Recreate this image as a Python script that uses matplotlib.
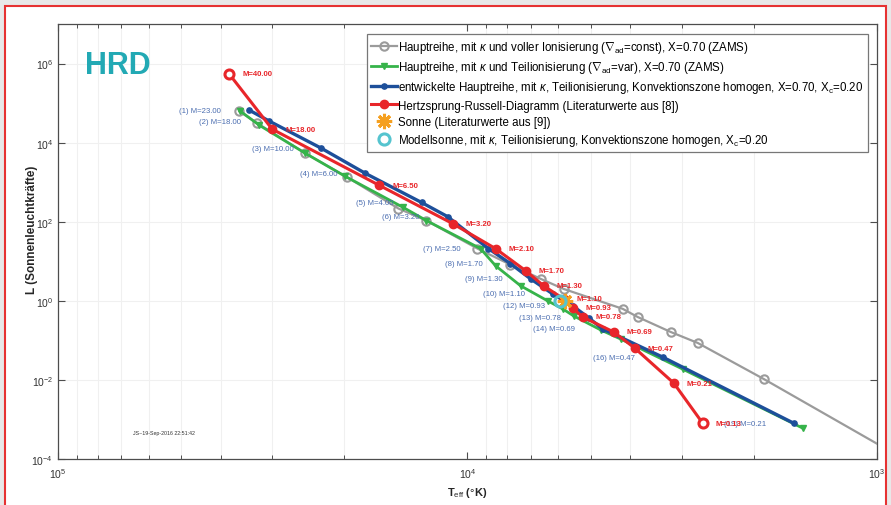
import matplotlib
matplotlib.use('Agg')
import matplotlib.pyplot as plt
from matplotlib.patches import Rectangle
from matplotlib.ticker import LogLocator, NullFormatter, FixedLocator

# ---------------- data ----------------
# Hauptreihe, mit kappa und voller Ionisierung (grey, open circles)
gray_T = [36040, 32620, 24890, 19650, 14750, 12600, 9454, 7853, 6630, 5825,
          4178, 3841, 3190, 2740, 1889, 780]
gray_L = [61500, 31060, 5380, 1324, 216, 107, 20.9, 8.2, 3.6, 2.0,
          0.627, 0.39, 0.163, 0.086, 0.0105, 5.6e-5]

# Hauptreihe, mit kappa und Teilionisierung (green, triangles)
green_T = [35890, 32260, 24890, 19880, 14340, 12600, 9295, 8540, 7420, 6374,
           5857, 5506, 4730, 4226, 2980, 1517]
green_L = [62700, 27660, 5380, 1403, 229, 107, 20.9, 7.7, 2.4, 1.0,
           0.627, 0.416, 0.184, 0.108, 0.0187, 0.0006]

# entwickelte Hauptreihe (dark blue, dots)
blue_T = [34120, 30470, 22750, 17760, 12950, 11190, 8888, 7853, 7015, 6195,
          5538, 5058, 4677, 3337, 1596]
blue_L = [66400, 34900, 7210, 1672, 307, 135, 20.9, 8.7, 3.6, 1.5,
          0.75, 0.37, 0.195, 0.0377, 0.0008]
blue_labels = ['(1) M=23.00', '(2) M=18.00', '(3) M=10.00', '(4) M=6.00',
               '(5) M=4.00', '(6) M=3.20', '(7) M=2.50', '(8) M=1.70',
               '(9) M=1.30', '(10) M=1.10', '(12) M=0.93', '(13) M=0.78',
               '(14) M=0.69', '(16) M=0.47', '(19) M=0.21']

# Hertzsprung-Russell-Diagramm, Literaturwerte (red)
red_T = [38190, 29990, 16410, 10880, 8540, 7215, 6520, 5825, 5538, 5235,
         4395, 3906, 3135, 2664]
red_L = [545000, 21900, 829, 90, 20.9, 5.8, 2.4, 1.12, 0.66, 0.39,
         0.163, 0.064, 0.0083, 0.0008]
red_labels = ['M=40.00', 'M=18.00', 'M=6.50', 'M=3.20', 'M=2.10', 'M=1.70',
              'M=1.30', 'M=1.10', 'M=0.93', 'M=0.78', 'M=0.69', 'M=0.47',
              'M=0.21', 'M=0.13']

# Sonne and Modellsonne
sun_T = [5778]
sun_L = [1.0]
model_T = [5947]
model_L = [1.0]

legend_labels = [
    r'Hauptreihe, mit $\kappa$ und voller Ionisierung ($\nabla_{\rm ad}$=const), X=0.70 (ZAMS)',
    r'Hauptreihe, mit $\kappa$ und Teilionisierung ($\nabla_{\rm ad}$=var), X=0.70 (ZAMS)',
    r'entwickelte Hauptreihe, mit $\kappa$, Teilionisierung, Konvektionszone homogen, X=0.70, X$_{\rm c}$=0.20',
    'Hertzsprung-Russell-Diagramm (Literaturwerte aus [8])',
    'Sonne (Literaturwerte aus [9])',
    r'Modellsonne, mit $\kappa$, Teilionisierung, Konvektionszone homogen, X$_{\rm c}$=0.20',
]

# ---------------- style ----------------
plt.rcParams['font.family'] = ['Liberation Sans', 'DejaVu Sans']
plt.rcParams['mathtext.fontset'] = 'custom'
plt.rcParams['mathtext.rm'] = 'Liberation Sans'
plt.rcParams['mathtext.it'] = 'Liberation Sans:italic'
plt.rcParams['mathtext.bf'] = 'Liberation Sans:bold'

C_GRAY = '#9b9b9b'
C_GREEN = '#36b34a'
C_BLUE = '#1d4f9a'
C_RED = '#e8262a'
C_ORANGE = '#f5a020'
C_CYAN = '#55c4cf'
C_BLUELAB = '#4a6db0'

W, H = 891, 506
fig = plt.figure(figsize=(W / 100, H / 100), dpi=100, facecolor='#e8e8e8')
fig.add_artist(Rectangle((5 / W, -0.05), (886 - 5) / W, (H - 7) / H + 0.05,
                         transform=fig.transFigure, facecolor='white',
                         edgecolor='#e63232', linewidth=1.5, zorder=-10))

ax = fig.add_axes([58 / W, (H - 460) / H, (877 - 58) / W, (460 - 25) / H])
ax.set_xscale('log')
ax.set_yscale('log')

ax.plot(gray_T, gray_L, '-', color=C_GRAY, lw=1.6, marker='o', ms=6,
        mfc='none', mec=C_GRAY, mew=1.5, label=legend_labels[0], zorder=3)
ax.plot(green_T, green_L, '-', color=C_GREEN, lw=2.0, marker='v', ms=4.5,
        mfc=C_GREEN, mec=C_GREEN, label=legend_labels[1], zorder=4)
ax.plot(blue_T, blue_L, '-', color=C_BLUE, lw=2.4, marker='o', ms=3.8,
        mfc=C_BLUE, mec=C_BLUE, label=legend_labels[2], zorder=5)
ax.plot(red_T, red_L, '-', color=C_RED, lw=2.2, marker='o', ms=6,
        mfc=C_RED, mec=C_RED, label=legend_labels[3], zorder=6)
# open end points of the literature curve
ax.plot([red_T[0], red_T[-1]], [red_L[0], red_L[-1]], 'o', ms=6.5,
        mfc='white', mec=C_RED, mew=2.2, zorder=7)
ax.plot(sun_T, sun_L, ls='none', marker=(8, 2, 0), ms=11, mec=C_ORANGE,
        mew=2.2, label=legend_labels[4], zorder=8)
ax.plot(model_T, model_L, ls='none', marker='o', ms=8, mfc='none',
        mec=C_CYAN, mew=2.2, label=legend_labels[5], zorder=9)

for t, l, s in zip(blue_T, blue_L, blue_labels):
    ax.annotate(s, (t, l), xytext=(-28, 0), textcoords='offset pixels',
                ha='right', va='center', fontsize=5.6, color=C_BLUELAB,
                zorder=10)
for t, l, s in zip(red_T, red_L, red_labels):
    ax.annotate(s, (t, l), xytext=(13, 0), textcoords='offset pixels',
                ha='left', va='center', fontsize=5.6, color=C_RED,
                fontweight='bold', zorder=10)

ax.set_xlim(1e5, 1e3)
ax.set_ylim(1e-4, 1e7)

ax.xaxis.set_major_locator(FixedLocator([1e5, 1e4, 1e3]))
ax.xaxis.set_minor_locator(LogLocator(base=10, subs=range(2, 10)))
ax.xaxis.set_minor_formatter(NullFormatter())
ax.yaxis.set_major_locator(FixedLocator([1e-4, 1e-2, 1e0, 1e2, 1e4, 1e6]))
ax.yaxis.set_minor_locator(FixedLocator([]))

for sp in ax.spines.values():
    sp.set_color('#4d4d4d')
    sp.set_linewidth(0.9)
ax.tick_params(which='both', direction='in', top=True, right=True,
               colors='#4d4d4d', labelcolor='#333333', labelsize=7.5)
ax.tick_params(which='major', length=5, width=0.8)
ax.tick_params(which='minor', length=3, width=0.7)
ax.tick_params(axis='x', pad=5)

ax.grid(True, which='major', axis='y', color='#f0f0f0', lw=0.8, zorder=0)
ax.grid(True, which='minor', axis='x', color='#f0f0f0', lw=0.8, zorder=0)

ax.set_xlabel(r'T$_{\rm eff}$ ($\degree$K)', fontsize=8, fontweight='bold',
              color='#262626', labelpad=4)
ax.set_ylabel('L (Sonnenleuchtkräfte)', fontsize=8.5, fontweight='bold',
              color='#262626')
ax.yaxis.set_label_coords(-0.025, 0.53)

ax.text(0.033, 0.905, 'HRD', transform=ax.transAxes, fontsize=22,
        fontweight='bold', color='#22a9b4', ha='left', va='center')
ax.text(0.092, 0.061, 'JS~19-Sep-2016 22:51:42', transform=ax.transAxes,
        fontsize=3.8, color='#333333', ha='left', va='center')

leg = ax.legend(loc='upper right', bbox_to_anchor=(0.989, 0.976),
                fontsize=8.3, frameon=True, fancybox=False, framealpha=1,
                edgecolor='#777777', handlelength=2.2, handletextpad=0.15,
                labelspacing=0.36, borderpad=0.4, borderaxespad=0)
leg.get_frame().set_linewidth(0.9)
leg.set_zorder(20)

fig.savefig('out.png', dpi=100, facecolor=fig.get_facecolor())
